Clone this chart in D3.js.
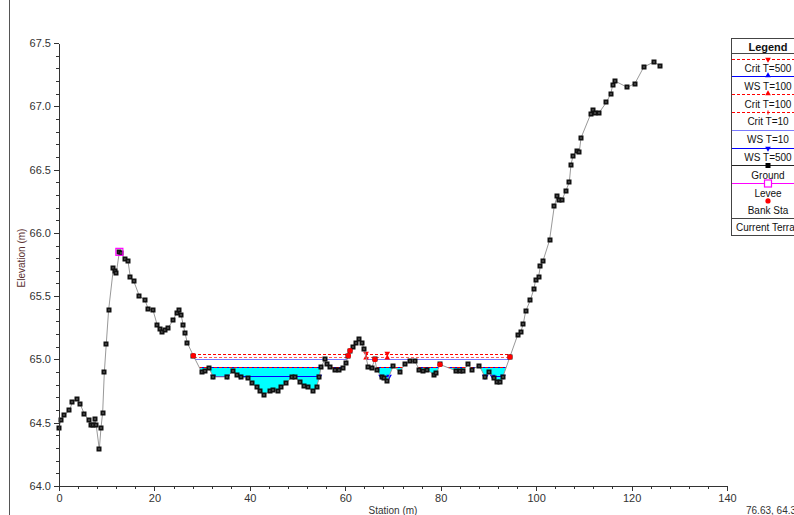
<!DOCTYPE html>
<html>
<head>
<meta charset="utf-8">
<script src="https://cdn.jsdelivr.net/npm/d3@7"></script>
<style>
  body { margin: 0; background: #fff; }
  svg { display: block; font-family: "Liberation Sans", Arial, sans-serif; }
</style>
</head>
<body>
<svg id="chart" width="794" height="515"></svg>
<script>
// Ground survey of the cross section: station (m) and elevation (m)
const groundStation = [
  0.0, 0.4, 1.1, 2.2, 2.8, 3.7, 4.4, 5.3, 6.2, 6.7, 7.2, 7.5, 7.8, 8.45, 8.8, 9.15,
  9.5, 9.9, 10.4, 11.4, 11.7, 12.0, 12.65, 13.05, 13.8, 14.45, 14.95, 15.65, 16.85, 18.0,
  18.7, 19.7, 20.6, 21.2, 21.65, 22.2, 22.85, 23.95, 24.65, 25.2, 25.6, 26.05, 26.4, 26.9,
  28.15, 29.9, 30.6, 31.45, 32.35, 35.15, 36.55, 37.4, 38.15, 39.7, 40.5, 41.5, 42.05, 42.95,
  44.2, 44.85, 45.95, 46.6, 47.6, 48.75, 49.45, 50.5, 51.35, 52.25, 53.15, 54.0, 54.55, 54.9,
  55.75, 56.15, 56.8, 57.85, 58.75, 59.6, 60.1, 60.65, 61.0, 61.7, 62.2, 62.9, 63.45, 64.0,
  64.8, 65.5, 66.2, 66.6, 67.6, 68.2, 68.8, 70.05, 71.4, 72.45, 73.6, 74.6, 75.5, 76.3,
  77.2, 78.5, 79.1, 79.85, 83.2, 84.0, 84.6, 85.8, 86.5, 88.1, 89.3, 90.2, 91.2, 91.9,
  92.5, 93.0, 94.5, 96.1, 96.8, 97.3, 97.8, 98.8, 99.55, 99.9, 100.5, 100.9, 101.45, 102.8,
  103.8, 104.4, 104.8, 105.4, 106.2, 106.95, 107.3, 107.75, 108.5, 109.05, 109.4, 111.45, 111.85, 112.4,
  113.2, 114.7, 115.65, 116.05, 116.5, 119.1, 120.7, 122.55, 124.65, 126.05
];
const groundElev = [
  64.46, 64.52, 64.56, 64.60, 64.66, 64.69, 64.65, 64.57, 64.52, 64.48, 64.48, 64.53, 64.48, 64.29, 64.46, 64.58,
  64.90, 65.12, 65.39, 65.72, 65.70, 65.68, 65.85, 65.84, 65.79, 65.78, 65.65, 65.62, 65.50, 65.47,
  65.40, 65.39, 65.27, 65.24, 65.22, 65.23, 65.25, 65.31, 65.37, 65.39, 65.35, 65.27, 65.21, 65.13,
  65.03, 64.90, 64.91, 64.93, 64.862, 64.862, 64.91, 64.88, 64.86, 64.85, 64.81, 64.78, 64.75, 64.72,
  64.75, 64.76, 64.75, 64.78, 64.81, 64.86, 64.86, 64.82, 64.79, 64.78, 64.75, 64.78, 64.862, 64.94,
  65.00, 64.96, 64.94, 64.92, 64.92, 64.93, 64.97, 65.03, 65.07, 65.10, 65.13, 65.16, 65.13, 65.08,
  64.94, 64.93, 65.00, 64.92, 64.86, 64.85, 64.83, 64.95, 64.90, 64.96, 64.985, 64.985, 64.92, 64.91,
  64.92, 64.88, 64.89, 64.96, 64.91, 64.91, 64.91, 64.96, 64.92, 64.95, 64.86, 64.90, 64.85, 64.82,
  64.82, 64.86, 65.02, 65.19, 65.22, 65.28, 65.38, 65.47, 65.56, 65.63, 65.65, 65.74, 65.78, 65.94,
  66.21, 66.29, 66.26, 66.26, 66.33, 66.40, 66.54, 66.61, 66.65, 66.64, 66.75, 66.94, 66.97, 66.95,
  66.95, 67.03, 67.10, 67.17, 67.20, 67.15, 67.18, 67.31, 67.35, 67.32
];

// Levee crest and bank stations
const leveeStation = [12.65];
const leveeElev = [65.85];
const bankStations = [28.15, 60.65, 61.0, 66.2, 79.85, 94.5];

// Computed water surfaces (m) for each profile
const profileNames  = ["Crit T=500", "WS T=100", "Crit T=100", "Crit T=10", "WS T=10", "WS T=500"];
const profileLevels = [65.04, 64.938, 65.02, 64.938, 65.005, 64.866];
const critMarkerStations = [64.35, 68.8];

// Axis ticks
const xTicks = [0, 20, 40, 60, 80, 100, 120, 140];
const yTicks = [64.0, 64.5, 65.0, 65.5, 66.0, 66.5, 67.0, 67.5];
const cursorReadout = "76.63, 64.3";

const svg = d3.select("#chart");
const x = d3.scaleLinear().domain([0, 140]).range([59, 727]);
const y = d3.scaleLinear().domain([64, 67.5]).range([486, 43]);

const ground = groundStation.map((s, i) => [s, groundElev[i]]);
const leveeToe = leveeStation[0];

// Split the wetted section below a level into separate pools (right of the levee)
function wetParts(level) {
  const parts = [];
  let cur = null;
  for (let i = 0; i < ground.length - 1; i++) {
    const [s0, e0] = ground[i], [s1, e1] = ground[i + 1];
    if (s0 < leveeToe) continue;
    const w0 = e0 < level, w1 = e1 < level;
    if (!w0 && w1) {
      const t = (e0 - level) / (e0 - e1);
      cur = [[s0 + t * (s1 - s0), level]];
    }
    if (w1 && cur) cur.push([s1, e1]);
    if (w0 && !w1 && cur) {
      const t = (level - e0) / (e1 - e0);
      cur.push([s0 + t * (s1 - s0), level]);
      parts.push(cur);
      cur = null;
    }
  }
  return parts;
}

const level = name => profileLevels[profileNames.indexOf(name)];
const snap = v => Math.round(v) + 0.5;

// Frame line at the left edge
svg.append("line").attr("x1", 9.5).attr("x2", 9.5).attr("y1", 0).attr("y2", 515)
  .attr("stroke", "#555").attr("stroke-width", 1);

// Water fill for WS T=100
const fillLevel = level("WS T=100");
svg.append("g").selectAll("path").data(wetParts(fillLevel)).join("path")
  .attr("d", p => d3.line().x(d => x(d[0])).y(d => y(d[1]))(p) + "Z")
  .attr("fill", "#00ffff").attr("stroke", "none");

// Water-surface and critical-depth lines
function levelLines(name, color, dash, width) {
  const lv = level(name);
  const g = svg.append("g");
  g.selectAll("line").data(wetParts(lv)).join("line")
    .attr("x1", p => x(p[0][0])).attr("x2", p => x(p[p.length - 1][0]))
    .attr("y1", snap(y(lv))).attr("y2", snap(y(lv)))
    .attr("stroke", color).attr("stroke-width", width)
    .attr("stroke-dasharray", dash).attr("shape-rendering", "crispEdges");
  return g;
}
levelLines("WS T=10", "#7a7aff", null, 1.4);
levelLines("Crit T=100", "#ff5a5a", "3,2", 1);
levelLines("Crit T=500", "#ff0000", "3,2", 1);
levelLines("WS T=100", "#0000ff", null, 1);
levelLines("Crit T=10", "#ff0000", "3,2", 1);
levelLines("WS T=500", "#0000ff", null, 1.4);

// Profile markers
const tri = d3.symbol().type(d3.symbolTriangle).size(14);
svg.append("g").selectAll("path").data(critMarkerStations).join("path")
  .attr("d", tri).attr("fill", "#ff0000")
  .attr("transform", s => `translate(${x(s)},${y(level("Crit T=500")) - 1}) rotate(180)`);
svg.append("g").selectAll("path").data(critMarkerStations).join("path")
  .attr("d", tri).attr("fill", "#ff0000")
  .attr("transform", s => `translate(${x(s)},${y(level("Crit T=100")) + 1})`);
const ws500Ends = wetParts(level("WS T=500")).flatMap(p => [p[0][0], p[p.length - 1][0]]);
svg.append("g").selectAll("path").data(ws500Ends).join("path")
  .attr("d", tri).attr("fill", "#0000ff")
  .attr("transform", s => `translate(${x(s)},${y(level("WS T=500"))}) rotate(180)`);

// Ground line and points
svg.append("path").datum(ground)
  .attr("d", d3.line().x(d => x(d[0])).y(d => y(d[1])))
  .attr("fill", "none").attr("stroke", "#999").attr("stroke-width", 1);
const pts = svg.append("g").selectAll("g").data(ground).join("g")
  .attr("transform", d => `translate(${Math.round(x(d[0]))},${Math.round(y(d[1]))})`);
pts.append("rect").attr("x", -2.5).attr("y", -2.5).attr("width", 5).attr("height", 5).attr("fill", "#111");
pts.append("rect").attr("x", -0.5).attr("y", -0.5).attr("width", 1).attr("height", 1).attr("fill", "#ccc");

// Bank stations
const groundAt = s => ground.find(d => d[0] === s)[1];
svg.append("g").selectAll("circle").data(bankStations).join("circle")
  .attr("cx", s => x(s)).attr("cy", s => y(groundAt(s))).attr("r", 2.6).attr("fill", "#ff0000");

// Levee crest
svg.append("g").selectAll("rect").data(leveeStation).join("rect")
  .attr("x", (s) => x(s) - 3.5).attr("y", (s, i) => y(leveeElev[i]) - 3.5)
  .attr("width", 7).attr("height", 7).attr("fill", "none").attr("stroke", "#ff00ff").attr("stroke-width", 1.2);

// Axes
const fmt = d3.format(".1f");
const yMinor = d3.range(64.0, 67.51, 0.1).map(v => +v.toFixed(1));
const xMinor = d3.range(0, 141, 4);
const axisStyle = g => {
  g.selectAll("path,line").attr("stroke", "#333").attr("shape-rendering", "crispEdges");
  g.selectAll("text").attr("fill", "#333").attr("font-size", 11).attr("font-family", '"Liberation Sans", Arial, sans-serif');
};
svg.append("g").attr("transform", "translate(59,0)")
  .call(d3.axisLeft(y).tickValues(yMinor).tickSize(3).tickSizeOuter(0).tickFormat(""))
  .call(axisStyle);
svg.append("g").attr("transform", "translate(59,0)")
  .call(d3.axisLeft(y).tickValues(yTicks).tickSize(5).tickSizeOuter(0).tickFormat(fmt).tickPadding(3))
  .call(axisStyle);
svg.append("g").attr("transform", "translate(0,486)")
  .call(d3.axisBottom(x).tickValues(xMinor).tickSize(3).tickSizeOuter(0).tickFormat(""))
  .call(axisStyle);
svg.append("g").attr("transform", "translate(0,486)")
  .call(d3.axisBottom(x).tickValues(xTicks).tickSize(5).tickSizeOuter(0).tickPadding(3))
  .call(axisStyle);

// Axis titles
svg.append("text").attr("transform", "translate(25,258) rotate(-90)")
  .attr("text-anchor", "middle").attr("font-size", 10).attr("fill", "#5a3030").text("Elevation (m)");
svg.append("text").attr("x", 393).attr("y", 514).attr("text-anchor", "middle")
  .attr("font-size", 10).attr("fill", "#333").text("Station (m)");
svg.append("text").attr("x", 746).attr("y", 514).attr("font-size", 10).attr("fill", "#333").text(cursorReadout);

// Legend
const lg = svg.append("g");
const lx0 = 731, lx1 = 811, lcx = 768;
lg.append("rect").attr("x", lx0 + 0.5).attr("y", 38.5).attr("width", lx1 - lx0).attr("height", 197)
  .attr("fill", "#fff").attr("stroke", "#444");
lg.append("text").attr("x", lcx).attr("y", 51).attr("text-anchor", "middle")
  .attr("font-size", 11).attr("font-weight", "bold").attr("fill", "#111").text("Legend");
lg.append("line").attr("x1", lx0).attr("x2", lx1).attr("y1", 53.5).attr("y2", 53.5).attr("stroke", "#444");

const legendItems = ["Crit T=500", "WS T=100", "Crit T=100", "Crit T=10", "WS T=10", "WS T=500", "Ground", "Levee", "Bank Sta"];
const legendStyle = {
  "Crit T=500": { color: "#ff0000", dash: "3,2", mark: "down" },
  "WS T=100":   { color: "#0000ff", dash: null, mark: "up" },
  "Crit T=100": { color: "#ff0000", dash: "3,2", mark: "up" },
  "Crit T=10":  { color: "#ff0000", dash: "3,2", mark: "tick" },
  "WS T=10":    { color: "#7a7aff", dash: null, mark: null, width: 1.4 },
  "WS T=500":   { color: "#0000ff", dash: null, mark: "down" },
  "Ground":     { color: "#222", dash: null, mark: "square" },
  "Levee":      { color: "#ff00ff", dash: null, mark: "box" },
  "Bank Sta":   { color: null, dash: null, mark: "dot" }
};
legendItems.forEach((name, i) => {
  const ly = 58.5 + i * 17.8;
  const st = legendStyle[name];
  const ry = Math.round(ly) + 0.5;
  if (st.color) {
    lg.append("line").attr("x1", lx0 + 1).attr("x2", lx1).attr("y1", ry).attr("y2", ry)
      .attr("stroke", st.color).attr("stroke-width", st.width || 1)
      .attr("stroke-dasharray", st.dash).attr("shape-rendering", "crispEdges");
  }
  const mc = st.color || "#ff0000";
  if (st.mark === "down") lg.append("path").attr("d", tri).attr("fill", mc).attr("transform", `translate(${lcx},${ry}) rotate(180)`);
  if (st.mark === "up") lg.append("path").attr("d", tri).attr("fill", mc).attr("transform", `translate(${lcx},${ry - 1})`);
  if (st.mark === "tick") lg.append("line").attr("x1", lcx).attr("x2", lcx).attr("y1", ry - 2).attr("y2", ry + 2).attr("stroke", mc);
  if (st.mark === "square") lg.append("rect").attr("x", lcx - 2.5).attr("y", ry - 2.5).attr("width", 5).attr("height", 5).attr("fill", "#000");
  if (st.mark === "box") lg.append("rect").attr("x", lcx - 3.5).attr("y", ry - 3.5).attr("width", 7).attr("height", 7).attr("fill", "#fff").attr("stroke", mc).attr("stroke-width", 1.2);
  if (st.mark === "dot") lg.append("circle").attr("cx", lcx).attr("cy", ly).attr("r", 2.6).attr("fill", "#ff0000");
  lg.append("text").attr("x", lcx).attr("y", ly + 13.5).attr("text-anchor", "middle")
    .attr("font-size", 10).attr("fill", "#111").text(name);
});
lg.append("line").attr("x1", lx0).attr("x2", lx1).attr("y1", 218.5).attr("y2", 218.5).attr("stroke", "#444");
lg.append("text").attr("x", 736).attr("y", 231).attr("font-size", 10).attr("fill", "#111").text("Current Terrain");
</script>
</body>
</html>
